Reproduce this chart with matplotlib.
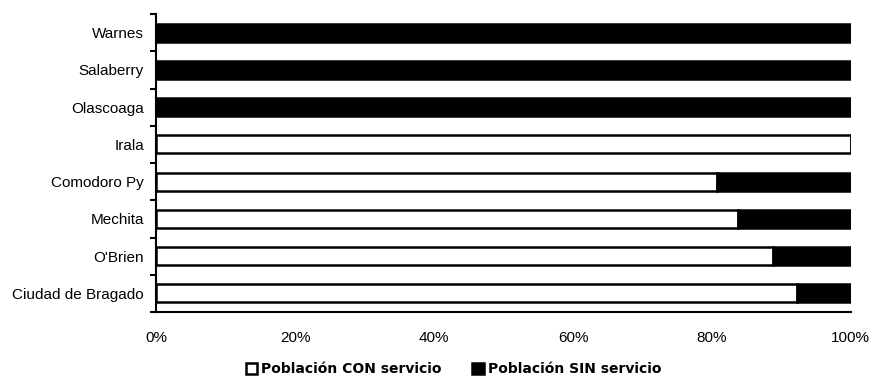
import matplotlib.pyplot as plt
from matplotlib.ticker import PercentFormatter, FixedLocator

plt.rcParams['font.family'] = ['Liberation Sans', 'DejaVu Sans']

# Datos (de abajo hacia arriba)
localidades = ['Ciudad de Bragado', "O'Brien", 'Mechita', 'Comodoro Py',
               'Irala', 'Olascoaga', 'Salaberry', 'Warnes']
con_servicio = [92.2, 88.8, 83.7, 80.7, 100, 0, 0, 0]
sin_servicio = [100 - v for v in con_servicio]

fig = plt.figure(figsize=(8.69, 3.84), dpi=100)
ax = fig.add_axes([0.18, 0.1875, 0.799, 0.776])

pos = range(len(localidades))
ax.barh(pos, con_servicio, height=0.48, color='white', edgecolor='black',
        linewidth=1.8, label='Población CON servicio')
ax.barh(pos, sin_servicio, left=con_servicio, height=0.48, color='black',
        edgecolor='black', linewidth=1.8, label='Población SIN servicio')

ax.set_xlim(0, 100)
ax.set_ylim(-0.5, len(localidades) - 0.5)
ax.set_yticks(list(pos))
ax.set_yticklabels(localidades, fontsize=11)
ax.yaxis.set_minor_locator(FixedLocator([p - 0.5 for p in range(len(localidades) + 1)]))
ax.tick_params(axis='y', which='major', length=0, pad=9)
ax.tick_params(axis='y', which='minor', length=4, width=1.5, direction='out')
ax.set_xticks([0, 20, 40, 60, 80, 100])
ax.xaxis.set_major_formatter(PercentFormatter(decimals=0))
ax.tick_params(axis='x', length=0, pad=14, labelsize=11)

for s in ['top', 'right']:
    ax.spines[s].set_visible(False)
ax.spines['left'].set_linewidth(1.5)
ax.spines['bottom'].set_linewidth(1.5)

fig.legend(loc='lower center', bbox_to_anchor=(0.522, -0.012), ncol=2,
           frameon=False, prop={'family': 'DejaVu Sans', 'weight': 'bold', 'size': 10},
           handlelength=0.8, handleheight=0.8, handletextpad=0.3, columnspacing=2.2)

fig.savefig('out.png', dpi=100)
